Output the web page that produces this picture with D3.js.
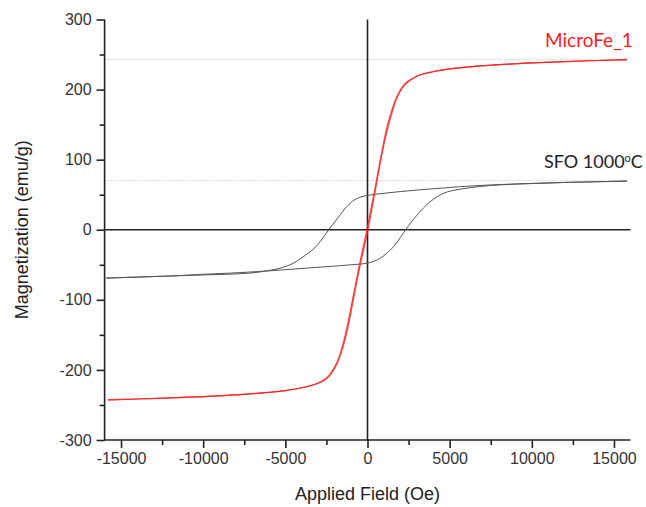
<!DOCTYPE html>
<html>
<head>
<meta charset="utf-8">
<script src="https://cdn.jsdelivr.net/npm/d3@7"></script>
<style>
    body { margin: 0; background: #fff; }
    text { font-family: 'Liberation Sans', Arial, sans-serif; }
</style>
</head>
<body>
<div id="chart-area"></div>
<script>
// DATA: [field (Oe), magnetization (emu/g)]
const microFeUp = [
    [-15800, -242.5], [-14000, -241.5], [-12000, -240], [-10000, -238], [-8000, -235.5],
    [-6000, -232], [-5000, -229.5], [-4000, -225.5], [-3000, -219], [-2650, -215],
    [-2300, -208], [-2030, -199], [-1760, -186], [-1450, -164], [-1160, -136],
    [-880, -102], [-460, -52], [30, 0], [520, 62], [910, 112], [1200, 142],
    [1480, 166], [1730, 185], [2000, 198], [2280, 207], [2650, 214], [3000, 219],
    [4000, 225.5], [5000, 229.5], [6000, 232], [8000, 235.5], [10000, 238],
    [12000, 240], [14000, 241.5], [15800, 242.5]
]
const microFeDown = [
    [15800, 243], [14000, 241.5], [12000, 240], [10000, 238], [8000, 235.5],
    [6000, 232], [5000, 229.5], [4000, 225.5], [3000, 219], [2600, 214],
    [2230, 207], [1960, 198], [1700, 185], [1420, 166], [1140, 142],
    [880, 112], [480, 62], [-40, 0], [-510, -52], [-930, -102], [-1220, -136],
    [-1500, -164], [-1800, -186], [-2080, -199], [-2350, -208], [-2700, -215],
    [-3050, -219], [-4000, -225.5], [-5000, -229.5], [-6000, -232], [-8000, -235.5],
    [-10000, -238], [-12000, -240], [-14000, -241.5], [-15800, -243]
]
const sfoDown = [
    [15800, 69.5], [14000, 68.5], [12000, 67.5], [10000, 66], [8000, 64.5],
    [5670, 61.5], [4000, 58.5], [2000, 54.5], [1000, 52], [0, 49],
    [-430, 46.6], [-800, 42.5], [-1040, 38], [-1350, 31], [-1650, 21.4],
    [-2000, 11], [-2360, 0], [-2870, -16.7], [-3200, -25.5], [-3580, -33],
    [-4000, -40], [-4490, -47.5], [-5000, -52.5], [-5510, -56], [-6200, -59],
    [-7130, -61.8], [-10000, -64.5], [-12000, -66], [-14000, -67.5], [-15900, -69]
]
const sfoUp = [
    [-15900, -69], [-14000, -67.5], [-12000, -66], [-10000, -63.5], [-8000, -61.5],
    [-5300, -57.5], [-3000, -53.5], [-1000, -50], [0, -47.5], [400, -45],
    [790, -40.4], [1200, -33], [1600, -23.8], [2000, -11], [2320, 0],
    [2700, 12], [3030, 21.4], [3400, 31], [3840, 40.4], [4200, 46.5],
    [4650, 52.3], [5100, 55.5], [5670, 58], [6890, 61.8], [8000, 64],
    [10000, 66], [12000, 67.5], [14000, 68.5], [15800, 69.5]
]
const xTicks = [-15000, -10000, -5000, 0, 5000, 10000, 15000]
const yTicks = [-300, -200, -100, 0, 100, 200, 300]
const refLevels = [243, 70]

// SET CHART SIZE
const W = 646
const H = 507
const margin = { left: 104.6, right: 15.6, top: 19.5, bottom: 67 }

const svg = d3.select('#chart-area')
              .append('svg')
              .attr('width', W)
              .attr('height', H)

// SCALES
const x = d3.scaleLinear()
            .domain([-16000, 16000])
            .range([margin.left, W - margin.right])
const y = d3.scaleLinear()
            .domain([-300, 300])
            .range([H - margin.bottom, margin.top])

// DOTTED REFERENCE LINES
svg.selectAll('.ref')
   .data(refLevels)
   .enter()
   .append('line')
   .attr('class', 'ref')
   .attr('x1', x(-16000))
   .attr('x2', x(15800))
   .attr('y1', d => y(d))
   .attr('y2', d => y(d))
   .attr('stroke', '#b4b4b4')
   .attr('stroke-width', 1)
   .attr('stroke-dasharray', '1,2')

// ZERO LINES
svg.append('line')
   .attr('x1', x(-16000)).attr('x2', x(16000))
   .attr('y1', y(0)).attr('y2', y(0))
   .attr('stroke', '#222').attr('stroke-width', 1.6)
svg.append('line')
   .attr('x1', x(0)).attr('x2', x(0))
   .attr('y1', y(300)).attr('y2', y(-300))
   .attr('stroke', '#222').attr('stroke-width', 1.6)

// CURVES
const line = d3.line()
               .x(d => x(d[0]))
               .y(d => y(d[1]))
               .curve(d3.curveMonotoneX)

;[sfoDown, sfoUp].forEach(s => {
    svg.append('path')
       .attr('d', line(s))
       .attr('fill', 'none')
       .attr('stroke', '#555')
       .attr('stroke-width', 1)
})
;[microFeDown, microFeUp].forEach(s => {
    svg.append('path')
       .attr('d', line(s))
       .attr('fill', 'none')
       .attr('stroke', '#ff2020')
       .attr('stroke-width', 1.2)
       .attr('stroke-opacity', 0.85)
})

// X AXIS
const tickFmt = d => String(d)
const xMinor = svg.append('g')
                  .attr('transform', 'translate(0,' + y(-300) + ')')
                  .call(d3.axisBottom(x)
                          .tickValues(d3.range(-12500, 15000, 5000))
                          .tickSize(5)
                          .tickFormat(''))
xMinor.select('.domain').remove()
xMinor.selectAll('.tick line').attr('stroke', '#222').attr('stroke-width', 1.6)

const xMajor = svg.append('g')
                  .attr('transform', 'translate(0,' + y(-300) + ')')
                  .call(d3.axisBottom(x).tickValues(xTicks).tickSize(8).tickPadding(5).tickFormat(tickFmt))
xMajor.select('.domain').remove()
xMajor.selectAll('.tick line').attr('stroke', '#222').attr('stroke-width', 1.6)
xMajor.selectAll('.tick text')
      .attr('font-size', '16px')
      .attr('fill', '#333')
      .style('font-family', '"Liberation Sans", Arial, sans-serif')

// Y AXIS
const yMinor = svg.append('g')
                  .attr('transform', 'translate(' + x(-16000) + ',0)')
                  .call(d3.axisLeft(y)
                          .tickValues(d3.range(-250, 251, 100))
                          .tickSize(5)
                          .tickFormat(''))
yMinor.select('.domain').remove()
yMinor.selectAll('.tick line').attr('stroke', '#222').attr('stroke-width', 1.6)

const yMajor = svg.append('g')
                  .attr('transform', 'translate(' + x(-16000) + ',0)')
                  .call(d3.axisLeft(y).tickValues(yTicks).tickSize(8).tickPadding(5).tickFormat(tickFmt))
yMajor.select('.domain').remove()
yMajor.selectAll('.tick line').attr('stroke', '#222').attr('stroke-width', 1.6)
yMajor.selectAll('.tick text')
      .attr('font-size', '16px')
      .attr('fill', '#333')
      .style('font-family', '"Liberation Sans", Arial, sans-serif')

// AXIS LINES
svg.append('path')
   .attr('d', 'M' + x(-16000) + ',' + y(300) + 'V' + y(-300) + 'H' + x(16000))
   .attr('fill', 'none')
   .attr('stroke', '#222')
   .attr('stroke-width', 1.6)

// AXIS TITLES
svg.append('text')
   .attr('x', x(0))
   .attr('y', 500)
   .attr('text-anchor', 'middle')
   .attr('font-size', '18px')
   .attr('fill', '#222')
   .text('Applied Field (Oe)')

svg.append('text')
   .attr('transform', 'translate(28,' + y(0) + ') rotate(-90)')
   .attr('text-anchor', 'middle')
   .attr('font-size', '18px')
   .attr('fill', '#222')
   .text('Magnetization (emu/g)')

// SERIES LABELS
svg.append('text')
   .attr('x', 545)
   .attr('y', 47)
   .attr('font-size', '19px')
   .attr('fill', '#ff1a1a')
   .style('font-family', 'Lato, "Open Sans", sans-serif')
   .text('MicroFe_1')

const sfoLabel = svg.append('text')
                    .attr('x', 544)
                    .attr('y', 168)
                    .attr('font-size', '18px')
                    .attr('fill', '#222')
                    .style('font-family', 'Lato, "Open Sans", sans-serif')
sfoLabel.append('tspan').text('SFO 1000')
sfoLabel.append('tspan').attr('font-size', '11px').attr('dy', -6).text('o')
sfoLabel.append('tspan').attr('dy', 6).text('C')
</script>
</body>
</html>
